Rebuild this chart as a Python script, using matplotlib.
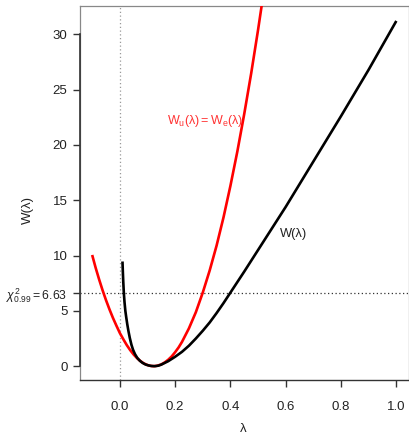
import matplotlib
matplotlib.use("Agg")
import matplotlib.pyplot as plt

plt.rcParams['font.family'] = ['Liberation Sans', 'DejaVu Sans']
plt.rcParams['mathtext.fontset'] = 'custom'
plt.rcParams['mathtext.rm'] = 'Liberation Sans'
plt.rcParams['mathtext.it'] = 'Liberation Sans:italic'
plt.rcParams['mathtext.sf'] = 'Liberation Sans'

# red curve: W_u(lambda) = W_e(lambda)
lam_red = [-0.10, -0.0875, -0.075, -0.0625, -0.05, -0.0375, -0.025, -0.0125, 0.0,
           0.0125, 0.025, 0.0375, 0.05, 0.0625, 0.075, 0.0875, 0.10, 0.11, 0.122,
           0.135, 0.15, 0.1625, 0.175, 0.1875, 0.20, 0.2125, 0.225, 0.25, 0.275,
           0.30, 0.325, 0.35, 0.375, 0.40, 0.425, 0.45, 0.475, 0.50, 0.525]
w_red = [10.05, 8.9, 7.85, 6.87, 5.97, 5.14, 4.37, 3.67, 3.0,
         2.44, 1.91, 1.45, 1.05, 0.72, 0.45, 0.24, 0.10, 0.03, 0.0,
         0.035, 0.16, 0.34, 0.58, 0.88, 1.26, 1.69, 2.20, 3.42, 4.88,
         6.65, 8.65, 10.9, 13.45, 16.3, 19.4, 22.8, 26.45, 30.4, 34.6]

# black curve: W(lambda)
lam_blk = [0.0096, 0.011, 0.0125, 0.0145, 0.017, 0.020, 0.023, 0.027, 0.031, 0.036,
           0.042, 0.048, 0.055, 0.063, 0.072, 0.082, 0.093, 0.105, 0.115, 0.127,
           0.14, 0.15, 0.175, 0.20, 0.225, 0.25, 0.275, 0.30, 0.325, 0.35,
           0.375, 0.40, 0.45, 0.50, 0.55, 0.60, 0.65, 0.70, 0.75, 0.80,
           0.85, 0.90, 0.95, 1.00]
w_blk = [9.46, 8.5, 7.6, 6.63, 5.78, 5.0, 4.45, 3.78, 3.2, 2.56,
         1.94, 1.47, 1.08, 0.75, 0.5, 0.3, 0.15, 0.06, 0.015, 0.0,
         0.05, 0.14, 0.45, 0.85, 1.3, 1.85, 2.5, 3.2, 3.95, 4.8,
         5.7, 6.65, 8.55, 10.5, 12.45, 14.4, 16.45, 18.5, 20.55, 22.6,
         24.7, 26.8, 29.0, 31.2]

chi_crit = 6.63
xticks = [0.0, 0.2, 0.4, 0.6, 0.8, 1.0]
yticks = [0, 5, 10, 15, 20, 25, 30]

fig = plt.figure(figsize=(4.09, 4.36), dpi=100)
ax = fig.add_axes([80/409, 56/436, (408.5-80)/409, (430-56)/436])

ax.plot(lam_red, w_red, color='#ff0000', lw=1.9, solid_capstyle='butt',
        solid_joinstyle='round', zorder=3)
ax.plot(lam_blk, w_blk, color='black', lw=1.9, solid_capstyle='butt',
        solid_joinstyle='round', zorder=3)

ax.axvline(0.0, color='#999999', ls=(0, (1, 2)), lw=0.9, zorder=1)
ax.axhline(chi_crit, color='#333333', ls=(0, (1, 2)), lw=0.9, zorder=1)

ax.set_xlim(-0.144, 1.044)
ax.set_ylim(-1.25, 32.55)

for s in ['top', 'right', 'left']:
    ax.spines[s].set_color('#888888')
    ax.spines[s].set_linewidth(0.9)
ax.spines['bottom'].set_color('#333333')
ax.spines['bottom'].set_linewidth(1.0)
# dark y-axis line over tick range
ax.plot([-0.144, -0.144], [0, 30], color='#333333', lw=1.2, clip_on=False, zorder=4)

ax.set_xticks(xticks)
ax.set_xticklabels([f"{v:.1f}" for v in xticks])
ax.set_yticks(yticks + [chi_crit])
ax.set_yticklabels([str(v) for v in yticks] + [r'$\chi^2_{0.99} = 6.63$'])
ax.tick_params(axis='both', direction='out', length=5, width=1.0, color='#333333',
               labelsize=9.5, labelcolor='#222222')
ax.tick_params(axis='x', pad=10)
ax.tick_params(axis='y', pad=4)
ax.get_yticklabels()[-1].set_fontsize(8.8)

ax.set_xlabel('λ', fontsize=9.5, color='#222222')
ax.xaxis.set_label_coords((243-80)/328.5, -(429-380)/374, transform=ax.transAxes)
ax.xaxis.label.set_va('center')
ax.set_ylabel('W(λ)', fontsize=9.5, color='#222222')
ax.yaxis.set_label_coords(-(80-28)/328.5, (380-210)/374, transform=ax.transAxes)
ax.yaxis.label.set_va('center')

ax.text(0.307, 22.2, r'$\mathrm{W_u(\lambda) = W_e(\lambda)}$', color='#ff3333',
        fontsize=9, ha='center', va='center')
ax.text(0.628, 11.9, 'W(λ)', color='#222222', fontsize=9.3, ha='center', va='center')

fig.savefig('out.png', dpi=100)
